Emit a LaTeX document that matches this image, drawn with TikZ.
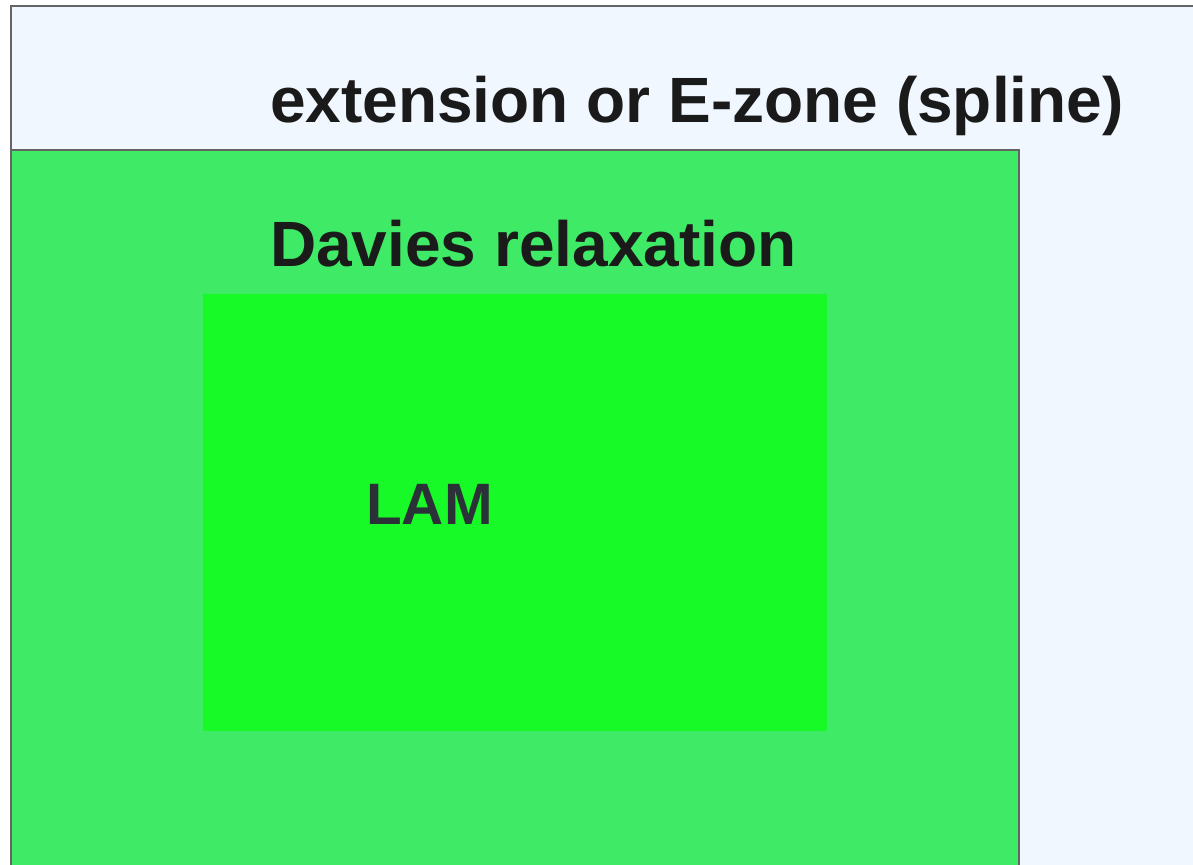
\documentclass[tikz,border=0pt]{standalone}
\usepackage{fontspec}
\setmainfont{Liberation Sans}
\definecolor{ezone}{RGB}{240,247,255}
\definecolor{davies}{RGB}{63,234,102}
\definecolor{lam}{RGB}{24,250,40}
\definecolor{txt}{RGB}{26,26,26}
\definecolor{lamtxt}{RGB}{42,50,56}
\definecolor{edge}{RGB}{100,100,100}
\tikzset{
  lbl/.style={anchor=base west, inner sep=0pt, font=\bfseries\fontsize{64}{70}\selectfont, text=txt},
  zonebox/.style={draw=edge, line width=1.2pt}
}
\begin{document}
\begin{tikzpicture}[x=1pt,y=-1pt]
\useasboundingbox (0,0) rectangle (1193,864);
\fill[white] (0,0) rectangle (1193,864);
\path[fill=ezone, zonebox] (11,6) rectangle (1200,870);
\path[fill=davies, zonebox] (11,150) rectangle (1019,870);
\node[fill=lam, inner sep=0pt, minimum width=624pt, minimum height=437pt, anchor=north west] (lambox) at (203,294) {};
\node[lbl] (ezlabel) at (270,122) {extension or E-zone (spline)};
\node[lbl] (dlabel) at (270,266) {Davies relaxation};
\node[lbl, font=\bfseries\fontsize{58.4}{64}\selectfont, text=lamtxt] (lamlabel) at (366,524) {LAM};
\end{tikzpicture}
\end{document}
